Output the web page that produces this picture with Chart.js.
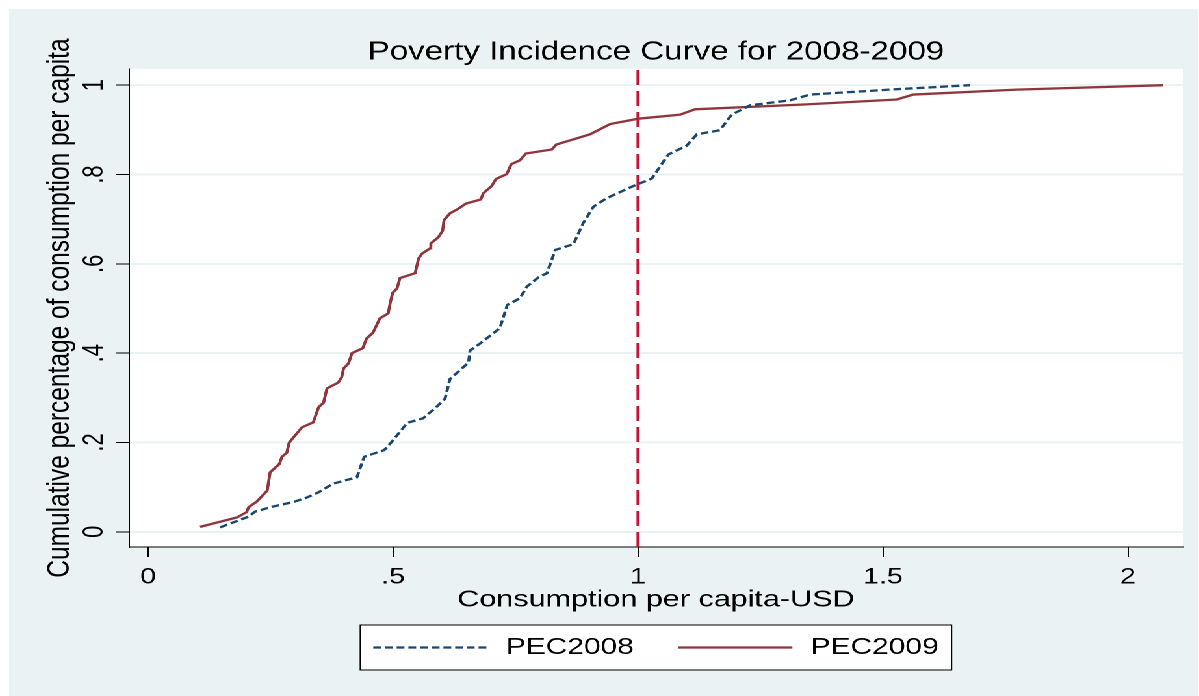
<!DOCTYPE html>
<html>
<head>
<meta charset="utf-8">
<title>Poverty Incidence Curve for 2008-2009</title>
<script src="https://cdn.jsdelivr.net/npm/chart.js@4"></script>
<style>
  html, body { margin: 0; padding: 0; background: #fff; }
  /* the reference is a stretched Stata graph, so draw it narrow and widen it */
  #wrap {
    position: absolute;
    left: 9px;
    top: 9px;
    width: 915px;
    height: 687px;
    background: #eaf2f3;
    transform: scaleX(1.3);
    transform-origin: 0 0;
  }
</style>
</head>
<body>
<div id="wrap"><canvas id="chart"></canvas></div>
<script>
const FONT = '"Liberation Sans", Arial, sans-serif';

// PEC2008 (dashed blue)
const pec2008X = [0.147, 0.205, 0.218, 0.249, 0.297, 0.320, 0.347, 0.378, 0.426, 0.441, 0.482, 0.496, 0.529, 0.561, 0.586,
    0.606, 0.616, 0.654, 0.657, 0.678, 0.718, 0.733, 0.759, 0.773, 0.797, 0.814, 0.831, 0.868, 0.888, 0.909, 0.936,
    0.990, 1.028, 1.062, 1.099, 1.120, 1.167, 1.191, 1.229, 1.310, 1.351, 1.528, 1.678];
const pec2008Y = [0.010, 0.034, 0.045, 0.055, 0.067, 0.075, 0.088, 0.108, 0.122, 0.168, 0.183, 0.200, 0.244, 0.254, 0.277,
    0.298, 0.342, 0.379, 0.406, 0.422, 0.456, 0.508, 0.523, 0.549, 0.570, 0.579, 0.631, 0.644, 0.691, 0.728, 0.747,
    0.774, 0.791, 0.845, 0.864, 0.890, 0.899, 0.934, 0.955, 0.966, 0.979, 0.991, 1.000];

// PEC2009 (solid red)
const pec2009X = [0.106, 0.181, 0.201, 0.205, 0.222, 0.243, 0.249, 0.268, 0.273, 0.283, 0.288, 0.314, 0.337, 0.348, 0.358,
    0.365, 0.388, 0.395, 0.399, 0.409, 0.416, 0.438, 0.446, 0.459, 0.473, 0.490, 0.494, 0.499, 0.508, 0.514, 0.545,
    0.552, 0.559, 0.576, 0.577, 0.592, 0.601, 0.604, 0.616, 0.631, 0.649, 0.679, 0.684, 0.701, 0.710, 0.732, 0.741,
    0.759, 0.771, 0.824, 0.833, 0.902, 0.943, 0.977, 1.001, 1.086, 1.116, 1.344, 1.528, 1.562, 1.773, 2.072];
const pec2009Y = [0.011, 0.032, 0.044, 0.055, 0.068, 0.092, 0.133, 0.152, 0.168, 0.177, 0.200, 0.234, 0.245, 0.279, 0.289,
    0.321, 0.334, 0.346, 0.366, 0.377, 0.400, 0.411, 0.433, 0.446, 0.478, 0.489, 0.512, 0.535, 0.545, 0.568, 0.579,
    0.612, 0.623, 0.635, 0.646, 0.659, 0.674, 0.698, 0.713, 0.722, 0.735, 0.744, 0.758, 0.774, 0.790, 0.801, 0.823,
    0.832, 0.847, 0.856, 0.867, 0.890, 0.913, 0.920, 0.925, 0.934, 0.946, 0.957, 0.968, 0.979, 0.990, 1.000];

const povertyLine = 1;

const xTicks = [0, 0.5, 1, 1.5, 2];
const xTickLabels = ['0', '.5', '1', '1.5', '2'];
const yTicks = [0, 0.2, 0.4, 0.6, 0.8, 1];
const yTickLabels = ['0', '.2', '.4', '.6', '.8', '1'];

const xMin = -0.039, xMax = 2.112;
const yMin = -0.034, yMax = 1.036;

const toPoints = (xs, ys) => xs.map((x, i) => ({ x: x, y: ys[i] }));

// white plot region like Stata's
const plotBackground = {
    id: 'plotBackground',
    beforeDraw(chart) {
        const a = chart.chartArea;
        chart.ctx.save();
        chart.ctx.fillStyle = '#fff';
        chart.ctx.fillRect(a.left, a.top, a.right - a.left, a.bottom - a.top);
        chart.ctx.restore();
    }
};

// boxed legend under the x title
const boxLegend = {
    id: 'boxLegend',
    afterDraw(chart) {
        const ctx = chart.ctx;
        const area = chart.chartArea;
        const sample = 88, gap = 14, between = 34, pad = 10, h = 45;
        const items = chart.data.datasets.filter(d => d.label);

        ctx.save();
        ctx.font = '23px ' + FONT;
        const widths = items.map(d => ctx.measureText(d.label).width);
        const total = pad * 2 + items.length * (sample + gap) + widths.reduce((a, b) => a + b, 0) + between * (items.length - 1);
        const left = (area.left + area.right) / 2 - total / 2;
        const top = chart.height - 71;

        ctx.fillStyle = '#fff';
        ctx.fillRect(left, top, total, h);
        ctx.strokeStyle = '#000';
        ctx.lineWidth = 1;
        ctx.strokeRect(left, top, total, h);

        let x = left + pad;
        const y = top + h / 2;
        items.forEach((d, i) => {
            ctx.beginPath();
            ctx.setLineDash(d.borderDash || []);
            ctx.strokeStyle = d.borderColor;
            ctx.lineWidth = d.borderWidth;
            ctx.moveTo(x, y);
            ctx.lineTo(x + sample, y);
            ctx.stroke();
            ctx.setLineDash([]);
            x += sample + gap;
            ctx.fillStyle = '#000';
            ctx.textAlign = 'left';
            ctx.textBaseline = 'middle';
            ctx.fillText(d.label, x, y);
            x += widths[i] + between;
        });
        ctx.restore();
    }
};

new Chart(document.getElementById('chart'), {
    type: 'line',
    data: {
        datasets: [
            {
                label: 'PEC2008',
                data: toPoints(pec2008X, pec2008Y),
                borderColor: '#1a476f',
                borderWidth: 2.3,
                borderDash: [6, 3],
                pointRadius: 0,
                tension: 0
            },
            {
                label: 'PEC2009',
                data: toPoints(pec2009X, pec2009Y),
                borderColor: '#90353b',
                borderWidth: 2.3,
                pointRadius: 0,
                tension: 0
            },
            {
                label: '',
                data: [{ x: povertyLine, y: yMin }, { x: povertyLine, y: yMax }],
                borderColor: '#c8143c',
                borderWidth: 2.4,
                borderDash: [15, 6],
                pointRadius: 0
            }
        ]
    },
    options: {
        responsive: true,
        maintainAspectRatio: false,
        animation: false,
        devicePixelRatio: 2,
        layout: { padding: { left: 0, right: 12, top: 0, bottom: 77 } },
        plugins: {
            legend: { display: false },
            tooltip: { enabled: false },
            title: {
                display: true,
                fullSize: false,
                text: 'Poverty Incidence Curve for 2008-2009',
                color: '#000',
                font: { family: FONT, size: 25.5, weight: 'normal' },
                padding: { top: 28, bottom: 1.5 }
            }
        },
        scales: {
            x: {
                type: 'linear',
                min: xMin,
                max: xMax,
                afterBuildTicks: s => { s.ticks = xTicks.map(v => ({ value: v })); },
                afterFit: s => { s.height = 72; },
                ticks: {
                    autoSkip: false,
                    maxRotation: 0,
                    padding: 7,
                    color: '#000',
                    font: { family: FONT, size: 22 },
                    callback: (v, i) => xTickLabels[i]
                },
                grid: { drawOnChartArea: false, tickLength: 10, tickColor: '#000', tickWidth: 1 },
                border: { display: true, color: '#000', width: 1 },
                title: {
                    display: true,
                    text: 'Consumption per capita-USD',
                    color: '#000',
                    font: { family: FONT, size: 23.5 },
                    padding: { top: 0, bottom: 5 }
                }
            },
            y: {
                min: yMin,
                max: yMax,
                afterBuildTicks: s => { s.ticks = yTicks.map(v => ({ value: v })); },
                afterFit: s => { s.width = 92.3; },
                ticks: {
                    minRotation: 90,
                    maxRotation: 90,
                    crossAlign: 'center',
                    padding: 7,
                    color: '#000',
                    font: { family: FONT, size: 22 },
                    callback: (v, i) => yTickLabels[i]
                },
                grid: { color: '#eaf2f3', lineWidth: 2, tickLength: 10, tickColor: '#000', tickWidth: 1 },
                border: { display: true, color: '#000', width: 1 },
                title: {
                    display: true,
                    text: 'Cumulative percentage of consumption per capita',
                    color: '#000',
                    font: { family: FONT, size: 24.5 },
                    padding: { top: 24.5, bottom: 0 }
                }
            }
        }
    },
    plugins: [plotBackground, boxLegend]
});
</script>
</body>
</html>
